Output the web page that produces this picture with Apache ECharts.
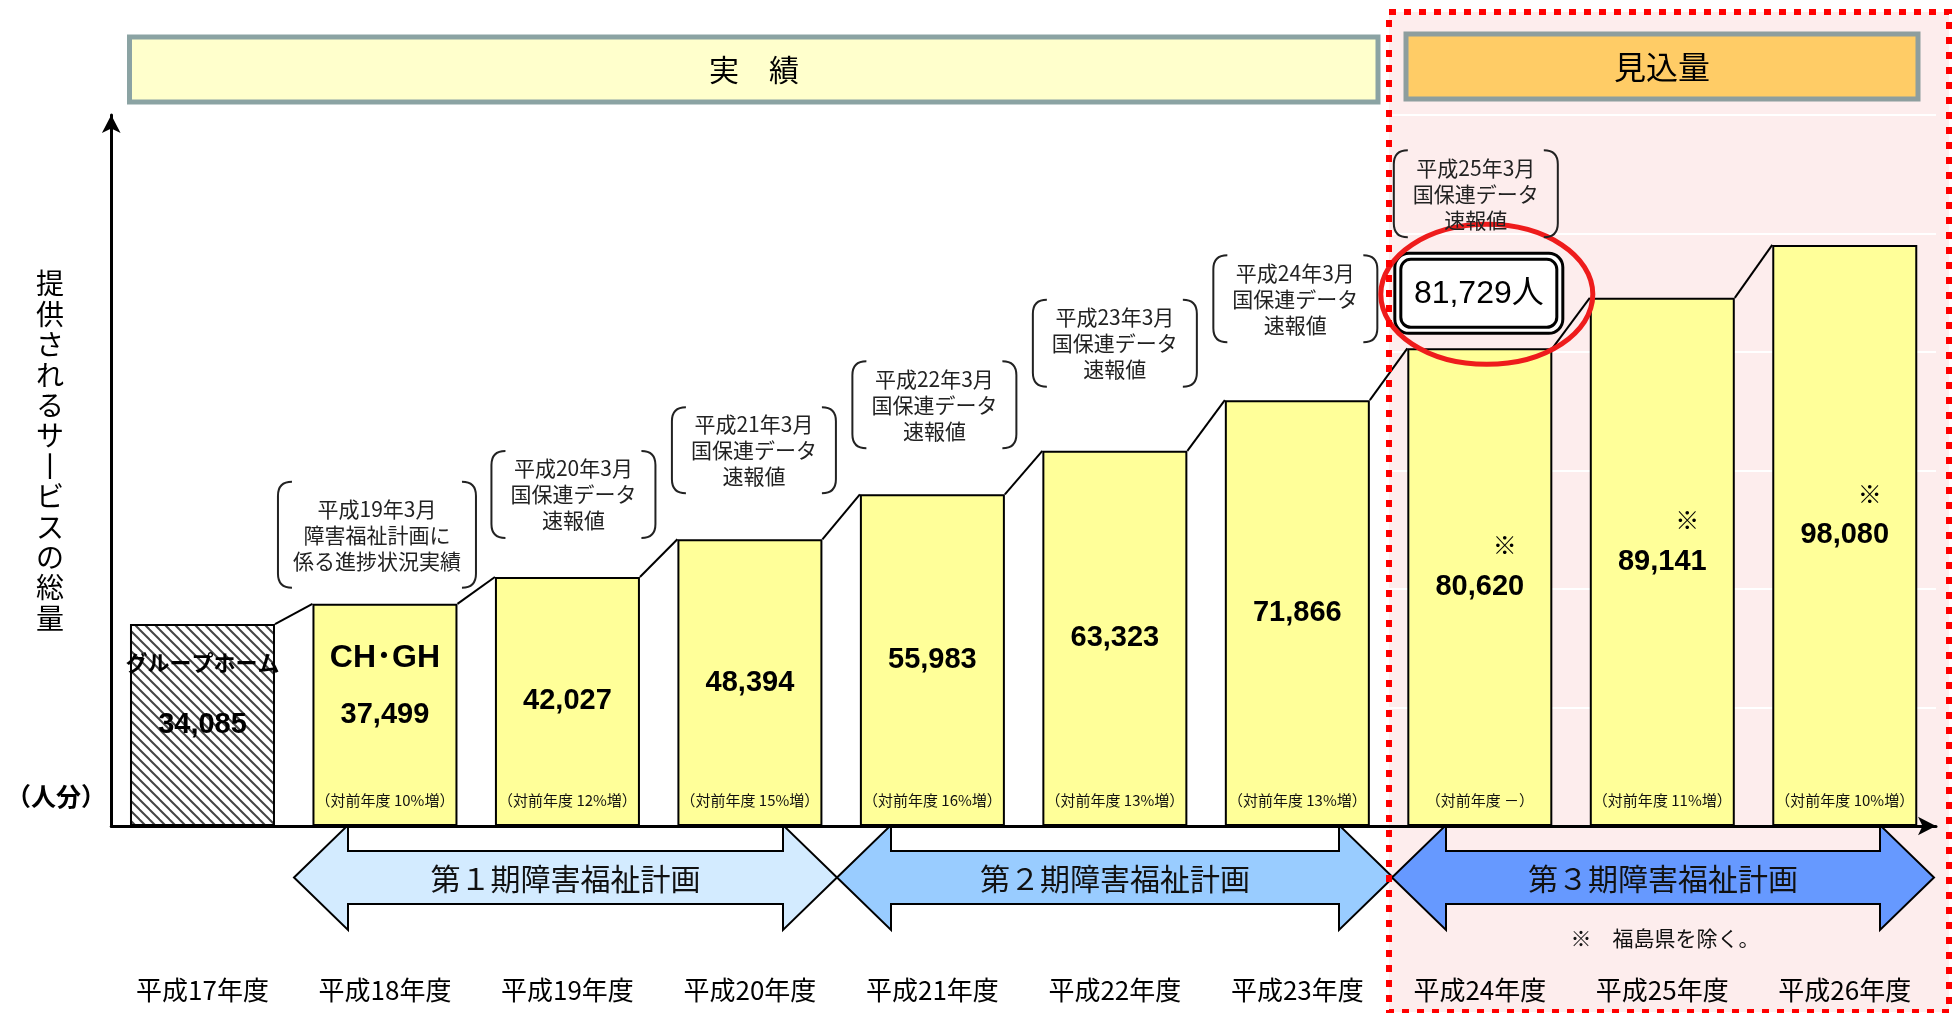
<!DOCTYPE html>
<html><head><meta charset="utf-8">
<script src="https://cdn.jsdelivr.net/npm/echarts@6/dist/echarts.min.js"></script>
<style>html,body{margin:0;padding:0;background:#fff}#c{width:1956px;height:1013px}</style>
</head><body><div id="c"></div>
<script>
// ---------------- data ----------------
const categories = ['平成17年度','平成18年度','平成19年度','平成20年度','平成21年度','平成22年度','平成23年度','平成24年度','平成25年度','平成26年度'];
const values = [34085, 37499, 42027, 48394, 55983, 63323, 71866, 80620, 89141, 98080];
const growthLabels = ['', '（対前年度 10%増）', '（対前年度 12%増）', '（対前年度 15%増）', '（対前年度 16%増）', '（対前年度 13%増）', '（対前年度 13%増）', '（対前年度 －）', '（対前年度 11%増）', '（対前年度 10%増）'];
const barTitles = ['グループホーム', 'CH･GH', '', '', '', '', '', '', '', ''];
const excludeMarks = [false, false, false, false, false, false, false, true, true, true];
const sourceNotes = ['', '平成19年3月\n障害福祉計画に\n係る進捗状況実績', '平成20年3月\n国保連データ\n速報値', '平成21年3月\n国保連データ\n速報値', '平成22年3月\n国保連データ\n速報値', '平成23年3月\n国保連データ\n速報値', '平成24年3月\n国保連データ\n速報値', '平成25年3月\n国保連データ\n速報値', '', ''];
const preliminaryIndex = 7;
const preliminaryText = '81,729人';
const yMin = 0, yMax = 120000, yInterval = 20000;
const headerLabels = ['実　績', '見込量'];
const periodLabels = ['第１期障害福祉計画', '第２期障害福祉計画', '第３期障害福祉計画'];
const axisTitle = '提供されるサービスの総量';
const unitLabel = '（人分）';
const footnote = '※　福島県を除く。';

// ---------------- layout / style ----------------
const BAR_W = 145;
const JP = '"Noto Sans CJK JP", sans-serif';
const NUM = '"Liberation Sans", "Noto Sans CJK JP", sans-serif';
const noteLayout = {
  1: {gap: 16, dx: -8, w: 198, h: 106},
  2: {gap: 39, dx: 6, w: 164, h: 87},
  3: {gap: 46, dx: 4, w: 164, h: 86},
  4: {gap: 46, dx: 2, w: 164, h: 87},
  5: {gap: 64, dx: 0, w: 164, h: 87},
  6: {gap: 58, dx: -2, w: 164, h: 87},
  7: {gap: 16, dx: -4, w: 164, h: 87}
};
const boxLayout = {gap: 15, dx: -1, w: 168, h: 80};
const ellipseLayout = {dx: 8, dy: 1, rx: 106, ry: 70};

function fmt(v) { return String(v).replace(/\B(?=(\d{3})+(?!\d))/g, ','); }

// hatch pattern
const hatch = document.createElement('canvas');
hatch.width = 10; hatch.height = 10;
(function () {
  const g = hatch.getContext('2d');
  g.fillStyle = '#fff'; g.fillRect(0, 0, 10, 10);
  g.strokeStyle = '#444'; g.lineWidth = 2;
  [[-10, 0], [0, 0], [10, 0]].forEach(([ox]) => {
    g.beginPath(); g.moveTo(ox - 1, -1); g.lineTo(ox + 11, 11); g.stroke();
  });
})();

function txt(text, x, y, font, extra) {
  return Object.assign({
    text, x, y, font, fill: '#000',
    align: 'center', verticalAlign: 'middle', textAlign: 'center', textVerticalAlign: 'middle'
  }, extra || {});
}

function bracketPath(x0, y0, x1, y1, r) {
  return 'M' + (x0 + r) + ' ' + y0 + ' Q' + x0 + ' ' + y0 + ' ' + x0 + ' ' + (y0 + r) +
    ' L' + x0 + ' ' + (y1 - r) + ' Q' + x0 + ' ' + y1 + ' ' + (x0 + r) + ' ' + y1 +
    ' M' + (x1 - r) + ' ' + y0 + ' Q' + x1 + ' ' + y0 + ' ' + x1 + ' ' + (y0 + r) +
    ' L' + x1 + ' ' + (y1 - r) + ' Q' + x1 + ' ' + y1 + ' ' + (x1 - r) + ' ' + y1;
}

function noteGroup(text, cx, bottom, L) {
  const x0 = cx - L.w / 2, x1 = cx + L.w / 2, y1 = bottom, y0 = bottom - L.h;
  return [
    {type: 'path', shape: {pathData: bracketPath(x0, y0, x1, y1, 14)}, style: {stroke: '#222', fill: null, lineWidth: 2}},
    {type: 'text', style: txt(text, cx, (y0 + y1) / 2, '21px ' + JP, {fill: '#222', lineHeight: 26})}
  ];
}

function renderItem(params, api) {
  const i = params.dataIndex;
  const p = api.coord([i, values[i]]);
  const base = api.coord([i, 0])[1];
  const half = BAR_W / 2;
  const ch = [];
  if (growthLabels[i]) {
    ch.push({type: 'text', style: txt(growthLabels[i], p[0], base - 26, '15px ' + JP, {fill: '#111'})});
  }
  if (i < values.length - 1) {
    const n = api.coord([i + 1, values[i + 1]]);
    ch.push({type: 'line', shape: {x1: p[0] + half, y1: p[1], x2: n[0] - half, y2: n[1]}, style: {stroke: '#000', lineWidth: 2}});
  }
  let noteBottom = p[1];
  if (i === preliminaryIndex) {
    const B = boxLayout;
    const bx = p[0] + B.dx - B.w / 2, by = p[1] - B.gap - B.h;
    ch.push({type: 'rect', shape: {x: bx, y: by, width: B.w, height: B.h, r: 14}, style: {fill: '#fff', stroke: '#000', lineWidth: 3}});
    ch.push({type: 'rect', shape: {x: bx + 6, y: by + 6, width: B.w - 12, height: B.h - 12, r: 10}, style: {fill: null, stroke: '#000', lineWidth: 3}});
    ch.push({type: 'text', style: txt(preliminaryText, bx + B.w / 2, by + B.h / 2 + 1, '32px ' + NUM)});
    const E = ellipseLayout;
    ch.push({type: 'ellipse', shape: {cx: bx + B.w / 2 + E.dx, cy: by + B.h / 2 + E.dy, rx: E.rx, ry: E.ry}, style: {fill: null, stroke: '#EE1C1C', lineWidth: 5}});
    noteBottom = by;
  }
  if (sourceNotes[i]) {
    const L = noteLayout[i];
    ch.push.apply(ch, noteGroup(sourceNotes[i], p[0] + L.dx, noteBottom - L.gap, L));
  }
  return {type: 'group', children: ch};
}

function arrowPoints(L, R, cy) {
  const hl = 54, hh = 52.5, sh = 26.5;
  return [[L, cy], [L + hl, cy - hh], [L + hl, cy - sh], [R - hl, cy - sh], [R - hl, cy - hh], [R, cy],
    [R - hl, cy + hh], [R - hl, cy + sh], [L + hl, cy + sh], [L + hl, cy + hh]];
}
const arrowSpans = [[294, 837, '#D3EBFF'], [837, 1393, '#99CCFF'], [1392, 1934, '#6699FF']];
const arrowCy = 877.5;

const graphics = [
  {type: 'rect', z: -10, shape: {x: 1389, y: 12, width: 560, height: 1000}, style: {fill: '#FDEDED'}},
  {type: 'rect', shape: {x: 129.5, y: 37, width: 1248.5, height: 65}, style: {fill: '#FFFFCC', stroke: '#8BA3A3', lineWidth: 5}},
  {type: 'text', style: txt(headerLabels[0], 754, 70, '30px ' + JP)},
  {type: 'rect', shape: {x: 1406, y: 34, width: 512, height: 65}, style: {fill: '#FFCC66', stroke: '#8E9E9E', lineWidth: 5}},
  {type: 'text', style: txt(headerLabels[1], 1662, 67, '32px ' + JP)},
  {type: 'text', style: txt(Array.from(axisTitle).map(c => c === 'ー' ? '丨' : c).join('\n'), 50, 451, '28px ' + JP, {lineHeight: 30.4})},
  {type: 'text', style: txt(unitLabel, 56, 796, 'bold 25px ' + JP)},
  {type: 'text', style: txt(footnote, 1665, 938, '21px ' + JP, {fill: '#111'})}
];
arrowSpans.forEach((a, k) => {
  graphics.push({type: 'polygon', shape: {points: arrowPoints(a[0], a[1], arrowCy)}, style: {fill: a[2], stroke: '#000', lineWidth: 2}});
  graphics.push({type: 'text', style: txt(periodLabels[k], (a[0] + a[1]) / 2, arrowCy + 1, '30px ' + JP, {fill: '#111'})});
});
graphics.push({type: 'rect', z: 50, shape: {x: 1389, y: 12, width: 560, height: 1000}, style: {fill: null, stroke: '#FF0000', lineWidth: 6, lineDash: [7, 8]}});

const barData = values.map((v, i) => {
  const item = {value: v};
  if (i === 0) item.itemStyle = {color: {image: hatch, repeat: 'repeat'}};
  return item;
});

const chart = echarts.init(document.getElementById('c'), null, {renderer: 'canvas'});
chart.setOption({
  animation: false,
  backgroundColor: '#fff',
  grid: {left: 111.25, right: 20, top: 115, bottom: 187, containLabel: false},
  xAxis: {
    type: 'category', data: categories, boundaryGap: true,
    axisLine: {show: true, lineStyle: {color: '#000', width: 3}, symbol: ['none', 'arrow'], symbolSize: [14, 18]},
    axisTick: {show: false},
    axisLabel: {fontSize: 26, color: '#000', fontFamily: JP, margin: 151},
    splitLine: {show: false}
  },
  yAxis: {
    type: 'value', min: yMin, max: yMax, interval: yInterval,
    axisLine: {show: true, lineStyle: {color: '#000', width: 3}, symbol: ['none', 'arrow'], symbolSize: [14, 18]},
    axisTick: {show: false}, axisLabel: {show: false},
    splitLine: {show: true, lineStyle: {color: '#fff', width: 2}}
  },
  graphic: {elements: graphics},
  series: [
    {
      type: 'bar', barWidth: BAR_W, data: barData, z: 2,
      itemStyle: {color: '#FFFF99', borderColor: '#000', borderWidth: 2},
      label: {
        show: true, position: 'inside', color: '#000',
        formatter: p => {
          const i = p.dataIndex, num = '{b|' + fmt(values[i]) + '}';
          if (i === 0) return '{g|' + barTitles[0] + '}\n' + num + '\n{gE| }';
          if (i === 1) return '{c|' + barTitles[1] + '}\n' + num + '\n{cE| }';
          if (excludeMarks[i]) return '{s|※}\n' + num + '\n{sE| }';
          return num;
        },
        rich: {
          b: {fontSize: 29, fontWeight: 'bold', fontFamily: NUM, lineHeight: 36, color: '#000'},
          g: {fontSize: 22, fontWeight: 'bold', fontFamily: JP, lineHeight: 88, color: '#000'},
          gE: {fontSize: 10, lineHeight: 88},
          c: {fontSize: 32, fontWeight: 'bold', fontFamily: NUM, lineHeight: 78, color: '#000'},
          cE: {fontSize: 10, lineHeight: 78},
          s: {fontSize: 24, fontFamily: JP, lineHeight: 48, padding: [0, 0, 0, 50], color: '#000'},
          sE: {fontSize: 10, lineHeight: 48}
        }
      }
    },
    {
      type: 'custom', z: 3, clip: false,
      data: values.map((v, i) => [i, v]),
      encode: {x: 0, y: 1},
      renderItem: renderItem
    }
  ]
});
</script>
</body></html>
